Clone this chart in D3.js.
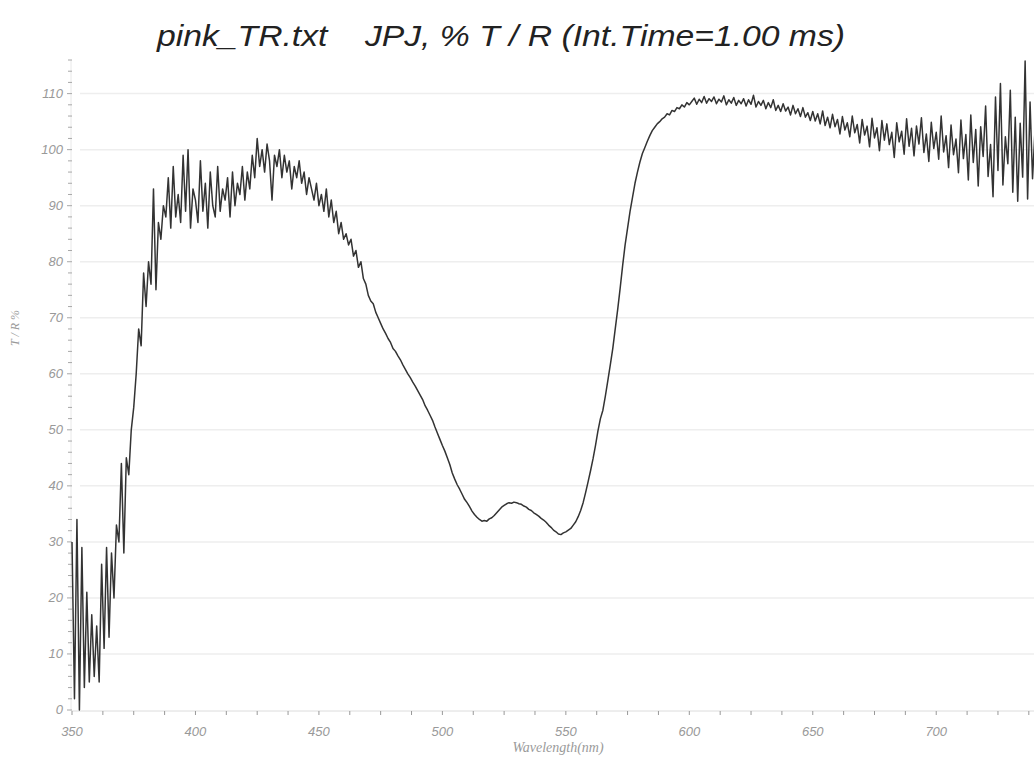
<!DOCTYPE html>
<html><head><meta charset="utf-8">
<script src="https://cdn.jsdelivr.net/npm/d3@7"></script>
<style>body{margin:0;background:#fff}svg{display:block}</style>
</head><body>
<svg id="c" width="1034" height="764"></svg>
<script>
const titleText = "pink_TR.txt    JPJ, % T / R (Int.Time=1.00 ms)";
const xLabel = "Wavelength(nm)";
const yLabel = "T / R %";
const xTicks = [350, 400, 450, 500, 550, 600, 650, 700];
const yTicks = [0, 10, 20, 30, 40, 50, 60, 70, 80, 90, 100, 110];
const wlStart = 350;
// %T/R at 1 nm steps from 350 nm
const values = [
30,2,34,0,29,4,21,5,17,6,15,5,26,11,29,13,28,20,33,30,
44,28,45,42,50,54,60,68,65,78,72,80,76,93,75,87,84,90,88,95,
86,97,88,92,87,99,89,100,86,93,91,87,98,89,94,86,96,90,88,97,
89,93,91,95,88,96,90,94,92,97,91,96,93,99,95,102,97,100,96,101,
98,91,99,97,100,95,99,96,98,93,97,95,98,94,96,92,95,93,91,94,
90,92,89,93,88,91,87,89,85,87,84,85,83,84,81,82,79,80,77,76,
74,73,72.5,71,70,69,68,67.2,66.3,65.6,64.5,64,63.2,62.5,61.6,60.8,60,59.3,58.5,57.8,
57,56.2,55.4,54.3,53.5,52.6,51.7,50.5,49.4,48.3,47.2,46.2,45,43.8,42.3,41.2,40.2,39.4,38.5,37.6,
37,36.3,35.5,34.9,34.4,34,33.7,33.8,33.7,34.1,34.3,34.7,35.2,35.7,36.2,36.5,36.8,37,36.9,37.1,
37,36.8,36.7,36.4,36.2,35.8,35.6,35.2,34.9,34.6,34.2,33.9,33.5,33,32.6,32.1,31.8,31.4,31.3,31.6,
31.8,32.1,32.4,33,33.6,34.5,35.6,37,38.8,40.7,42.7,44.8,47.2,49.8,52,53.5,56,58.8,61.6,64.5,
68,71.5,75.3,79.3,83,86,89,91.5,94,96,97.8,99.3,100.4,101.5,102.5,103.4,104,104.6,105,105.5,
105.8,106.4,106.2,107,106.8,107.5,107.3,108,107.6,108.4,108,108.6,109.2,108.1,109,108.4,109.5,108.3,109.1,108.6,
109.4,108.2,109,108.5,109.6,108,108.9,108.3,109.3,107.9,108.8,108.2,109.1,107.8,108.9,108.1,109.7,107.6,108.6,107.9,
108.8,107.3,108.4,107.5,108.9,107,107.9,106.8,108.2,106.9,107.6,106.2,107.9,106.4,107.3,105.9,107.5,105.8,106.6,105.2,
106.8,105.1,106.4,104.6,106.9,104.3,105.8,103.9,106.3,104.1,105.4,102.8,105.9,103.5,104.8,102.3,106,103,104.5,101.2,
105.4,102.6,104.2,100.5,105.6,102.1,103.9,99.8,105.2,101.7,104.6,100.9,103.1,98.6,104.8,101.4,103.3,99.2,105.5,100.6,
103.8,98.9,104.2,101,105.7,99.5,102.8,97.9,104.9,100.2,103.1,98.3,106,99.6,102.5,96.8,104.4,99.1,101.9,95.9,
105.3,98.4,102.7,94.6,106.2,97.7,103.6,93.5,104.1,98.8,107.8,95.2,100.9,91.6,109.4,96.3,111.8,93.7,102.3,97.5,
110.6,92.4,105.8,90.8,104.7,95.1,115.8,91.2,108.5,94.8,103.5
];
const data = values.map((v, i) => ({wl: wlStart + i, v}));

const svg = d3.select("#c");
const x = d3.scaleLinear().domain([350, 740]).range([72, 1035]);
const y = d3.scaleLinear().domain([0, 116]).range([710, 60]);

// grid
svg.append("g").selectAll("line").data(yTicks.filter(d => d > 0)).join("line")
  .attr("x1", 80).attr("x2", 1034)
  .attr("y1", d => y(d)).attr("y2", d => y(d))
  .attr("stroke", "#eeeeee").attr("stroke-width", 1.5);

// axes lines
svg.append("line").attr("x1", 72).attr("x2", 1034).attr("y1", 711).attr("y2", 711)
  .attr("stroke", "#dcdcdc").attr("stroke-width", 1);
svg.append("line").attr("x1", 71).attr("x2", 71).attr("y1", 60).attr("y2", 711)
  .attr("stroke", "#e8e8e8").attr("stroke-width", 1);

// y ticks (minor every 2)
const yMinor = d3.range(0, 117, 2);
svg.append("g").selectAll("line").data(yMinor).join("line")
  .attr("x1", d => d % 10 === 0 ? 67 : 68).attr("x2", 72)
  .attr("y1", d => y(d)).attr("y2", d => y(d))
  .attr("stroke", "#a8a8a8").attr("stroke-width", 1);
svg.append("g").selectAll("text").data(yTicks).join("text")
  .attr("x", 63).attr("y", d => y(d) + 4)
  .attr("text-anchor", "end")
  .attr("font-family", "Liberation Sans, Arial, sans-serif")
  .attr("font-style", "italic").attr("font-size", 13)
  .attr("fill", "#999").text(d => d);

// x ticks (minor every 12.5)
const xMinor = d3.range(350, 740, 12.5);
svg.append("g").selectAll("line").data(xMinor).join("line")
  .attr("x1", d => x(d)).attr("x2", d => x(d))
  .attr("y1", 711).attr("y2", 715)
  .attr("stroke", "#999").attr("stroke-width", 1);
svg.append("g").selectAll("text").data(xTicks).join("text")
  .attr("x", d => x(d)).attr("y", 736)
  .attr("text-anchor", "middle")
  .attr("font-family", "Liberation Sans, Arial, sans-serif")
  .attr("font-style", "italic").attr("font-size", 13)
  .attr("fill", "#999").text(d => d);

// data line
svg.append("path").datum(data)
  .attr("d", d3.line().x(d => x(d.wl)).y(d => y(d.v)))
  .attr("fill", "none").attr("stroke", "#333")
  .attr("stroke-width", 1.5).attr("stroke-linejoin", "round");

// title
svg.append("text").attr("x", 157).attr("y", 46)
  .attr("font-family", "Liberation Sans, Arial, sans-serif")
  .attr("font-style", "italic").attr("font-size", 29)
  .attr("fill", "#222")
  .attr("textLength", 688).attr("lengthAdjust", "spacingAndGlyphs")
  .style("white-space", "pre")
  .text(titleText);

// axis labels
svg.append("text").attr("x", 558).attr("y", 752)
  .attr("text-anchor", "middle")
  .attr("font-family", "Liberation Serif, serif")
  .attr("font-style", "italic").attr("font-size", 14)
  .attr("fill", "#9a9a9a").text(xLabel);
svg.append("text").attr("transform", "translate(19,328) rotate(-90)")
  .attr("text-anchor", "middle")
  .attr("font-family", "Liberation Serif, serif")
  .attr("font-style", "italic").attr("font-size", 12)
  .attr("fill", "#9a9a9a").text(yLabel);
</script>
</body></html>
